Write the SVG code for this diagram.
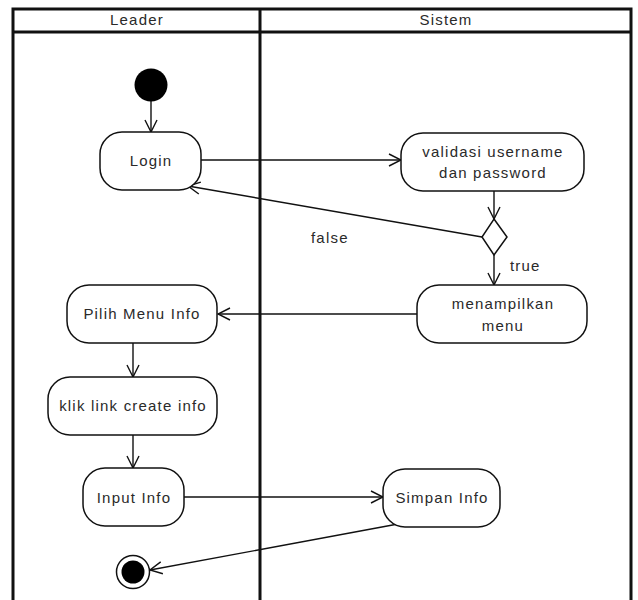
<svg xmlns="http://www.w3.org/2000/svg" width="638" height="600" viewBox="0 0 638 600">
  <style>
    .lane { fill: none; stroke: #111; stroke-width: 3; }
    .act { fill: #fff; stroke: #111; stroke-width: 1.5; }
    .flow { fill: none; stroke: #111; stroke-width: 1.4; marker-end: url(#open); }
    .lbl { font-family: "Liberation Sans", Arial, sans-serif; font-size: 15px; letter-spacing: 1.2px; fill: #2a2a2a; text-anchor: middle; }
    .guard { font-family: "Liberation Sans", Arial, sans-serif; font-size: 15px; letter-spacing: 1.2px; fill: #2a2a2a; }
  </style>
  <defs>
    <marker id="open" viewBox="0 0 14 14" refX="13" refY="7" markerWidth="14" markerHeight="14" markerUnits="userSpaceOnUse" orient="auto">
      <path d="M1,1 L13,7 L1,13" fill="none" stroke="#111" stroke-width="1.4"/>
    </marker>
  </defs>
  <rect width="638" height="600" fill="#fff"/>

  <!-- swimlanes -->
  <g id="lanes">
    <path class="lane" d="M13,602 V9 H631 V602 M13,32 H631 M260,9 V602"/>
    <text class="lbl" x="137" y="25">Leader</text>
    <text class="lbl" x="446" y="25">Sistem</text>
  </g>

  <!-- connectors -->
  <g id="connectors">
    <line class="flow" x1="151" y1="101" x2="151" y2="132"/>
    <line class="flow" x1="201" y1="160" x2="401" y2="160"/>
    <line class="flow" x1="494" y1="191" x2="494" y2="219"/>
    <line class="flow" x1="482" y1="237" x2="188" y2="186"/>
    <line class="flow" x1="494" y1="255" x2="494" y2="285"/>
    <line class="flow" x1="417" y1="314" x2="218" y2="314"/>
    <line class="flow" x1="133" y1="343" x2="133" y2="377"/>
    <line class="flow" x1="133" y1="435" x2="133" y2="468"/>
    <line class="flow" x1="184" y1="497" x2="383" y2="497"/>
    <line class="flow" x1="398" y1="524" x2="150" y2="570"/>
    <text class="guard" x="311" y="243">false</text>
    <text class="guard" x="510" y="271">true</text>
  </g>

  <g id="start">
    <circle cx="151" cy="85" r="16.5" fill="#000"/>
  </g>

  <g id="login">
    <rect class="act" x="100" y="132" width="101" height="58" rx="22"/>
    <text class="lbl" x="151" y="166">Login</text>
  </g>

  <g id="validasi">
    <rect class="act" x="401" y="133" width="183" height="58" rx="22"/>
    <text class="lbl" x="493" y="157">validasi username</text>
    <text class="lbl" x="493" y="178">dan password</text>
  </g>

  <g id="decision">
    <path class="act" d="M494,219 L507,237 L494,255 L482,237 Z"/>
  </g>

  <g id="menampilkan">
    <rect class="act" x="417" y="285" width="170" height="58" rx="22"/>
    <text class="lbl" x="503" y="309">menampilkan</text>
    <text class="lbl" x="503" y="331">menu</text>
  </g>

  <g id="pilih-menu">
    <rect class="act" x="67" y="285" width="150" height="58" rx="22"/>
    <text class="lbl" x="142" y="319">Pilih Menu Info</text>
  </g>

  <g id="klik-link">
    <rect class="act" x="48" y="377" width="169" height="58" rx="22"/>
    <text class="lbl" x="133" y="411">klik link create info</text>
  </g>

  <g id="input-info">
    <rect class="act" x="83" y="468" width="101" height="58" rx="22"/>
    <text class="lbl" x="134" y="503">Input Info</text>
  </g>

  <g id="simpan-info">
    <rect class="act" x="383" y="469" width="117" height="58" rx="22"/>
    <text class="lbl" x="442" y="503">Simpan Info</text>
  </g>

  <g id="end">
    <circle cx="133" cy="572" r="16.5" fill="#fff" stroke="#111" stroke-width="1.5"/>
    <circle cx="133" cy="572" r="11.5" fill="#000"/>
  </g>
</svg>
